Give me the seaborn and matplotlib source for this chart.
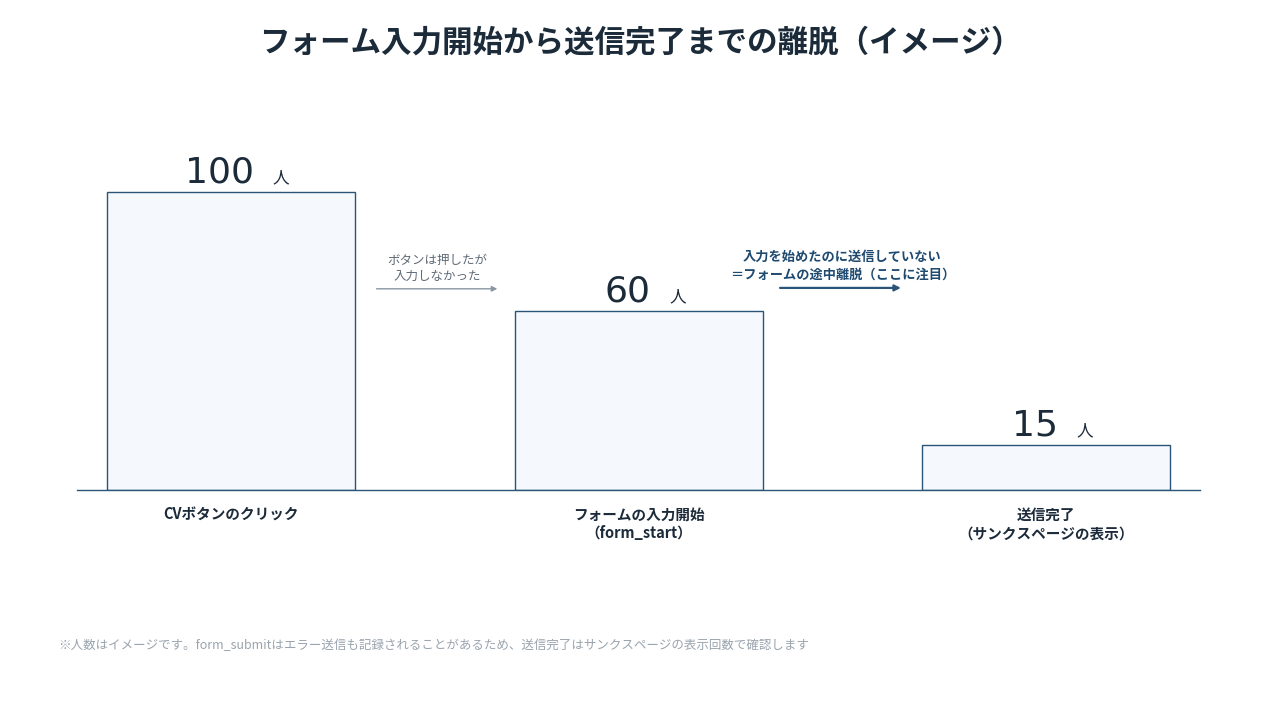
import matplotlib
matplotlib.use("Agg")
import matplotlib.pyplot as plt
import seaborn as sns
import pandas as pd

# data
steps = ["CVボタンのクリック", "フォームの入力開始\n（form_start）", "送信完了\n（サンクスページの表示）"]
people = [100, 60, 15]

sns.set_theme(style="white")
plt.rcParams["font.family"] = ["Noto Sans CJK JP", "DejaVu Sans"]

DARK = "#1c2b3a"
EDGE = "#2a5478"
FILL = "#f5f9fd"
GREY = "#8a96a3"

df = pd.DataFrame({"step": steps, "people": people})

fig = plt.figure(figsize=(12.8, 7.2), dpi=100)
ax = fig.add_axes([77 / 1280, 1 - 490 / 720, 1123 / 1280, 400 / 720])

sns.barplot(data=df, x="step", y="people", ax=ax, width=0.609,
            color=FILL, edgecolor=EDGE, linewidth=1, saturation=1)

ax.set_xlim(-0.378, 2.377)
ax.set_ylim(0, 134.2)
ax.set_xlabel("")
ax.set_ylabel("")
ax.set_yticks([])
for s in ["top", "right", "left"]:
    ax.spines[s].set_visible(False)
ax.spines["bottom"].set_color(EDGE)
ax.spines["bottom"].set_linewidth(1)
ax.tick_params(axis="x", length=0, pad=12)
for lab in ax.get_xticklabels():
    lab.set_fontsize(10.5)
    lab.set_color(DARK)
    lab.set_fontweight("bold")
    lab.set_linespacing(1.2)
    lab.set_verticalalignment("top")

for i, v in enumerate(people):
    ax.annotate(f"{v}", (i, v), xytext=(-8, 2), textcoords="offset points",
                ha="center", va="bottom", fontsize=26, color=DARK,
                family=["DejaVu Sans"])
    off = {100: 30, 60: 22, 15: 22}[v]
    ax.annotate("人", (i, v), xytext=(off, 4), textcoords="offset points",
                ha="left", va="bottom", fontsize=12, color=DARK)

# annotation arrows
ax.annotate("", xy=(0.66, 67.5), xytext=(0.35, 67.5),
            arrowprops=dict(arrowstyle="-|>", color=GREY, lw=1, mutation_scale=8))
ax.text(0.505, 69.5, "ボタンは押したが\n入力しなかった", ha="center", va="bottom",
        fontsize=9, color="#5f6b78", linespacing=1.3)

ax.annotate("", xy=(1.65, 67.8), xytext=(1.34, 67.8),
            arrowprops=dict(arrowstyle="-|>", color=EDGE, lw=1.6, mutation_scale=9))
ax.text(1.5, 70, "入力を始めたのに送信していない\n＝フォームの途中離脱（ここに注目）",
        ha="center", va="bottom", fontsize=9.5, color="#1f4a70",
        fontweight="bold", linespacing=1.3)

fig.text(0.5, 1 - 42 / 720, "フォーム入力開始から送信完了までの離脱（イメージ）",
         ha="center", va="center", fontsize=22, fontweight="bold", color=DARK)
fig.text(58 / 1280, 1 - 646 / 720,
         "※人数はイメージです。form_submitはエラー送信も記録されることがあるため、送信完了はサンクスページの表示回数で確認します",
         ha="left", va="center", fontsize=9, color="#9aa4ae")

fig.savefig("out.png", dpi=100)
